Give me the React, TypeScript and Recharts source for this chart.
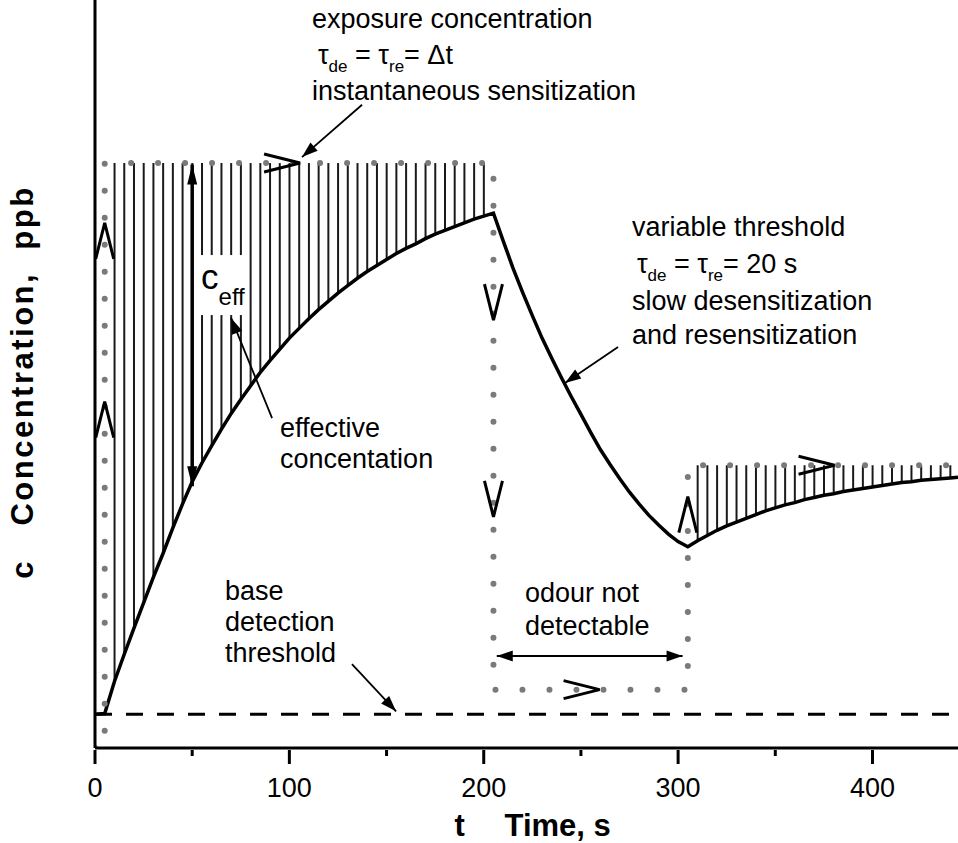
import {
  ComposedChart,
  Bar,
  Line,
  XAxis,
  YAxis,
  Label,
  ReferenceLine,
  ReferenceDot,
} from "recharts";

const FONT = '"Liberation Sans", Arial, Helvetica, sans-serif';

// effective (variable) threshold, every 5 s
const timeS = [
  0, 5, 10, 15, 20, 25, 30, 35, 40, 45,
  50, 55, 60, 65, 70, 75, 80, 85, 90, 95,
  100, 105, 110, 115, 120, 125, 130, 135, 140, 145,
  150, 155, 160, 165, 170, 175, 180, 185, 190, 195,
  200, 205, 210, 215, 220, 225, 230, 235, 240, 245,
  250, 255, 260, 265, 270, 275, 280, 285, 290, 295,
  300, 305, 310, 315, 320, 325, 330, 335, 340, 345,
  350, 355, 360, 365, 370, 375, 380, 385, 390, 395,
  400, 405, 410, 415, 420, 425, 430, 435, 440, 444,
];
const thresholdPpb = [
  4.5, 4.6, 8.9, 12.5, 16.0, 19.4, 22.8, 26.0, 29.4, 32.6,
  35.6, 38.1, 40.4, 42.6, 44.7, 46.6, 48.4, 50.2, 51.8, 53.3,
  54.8, 56.1, 57.4, 58.6, 59.7, 60.8, 61.8, 62.8, 63.7, 64.5,
  65.3, 66.1, 66.8, 67.4, 68.1, 68.7, 69.2, 69.7, 70.2, 70.7,
  71.1, 71.5, 67.8, 64.2, 60.9, 57.8, 54.8, 52.1, 49.5, 47.0,
  44.6, 42.2, 39.9, 37.9, 36.0, 34.2, 32.6, 31.1, 29.8, 28.6,
  27.6, 26.9, 27.7, 28.4, 29.1, 29.7, 30.2, 30.7, 31.2, 31.7,
  32.1, 32.5, 32.8, 33.2, 33.5, 33.8, 34.0, 34.3, 34.5, 34.7,
  34.9, 35.1, 35.3, 35.5, 35.6, 35.8, 35.9, 36.0, 36.1, 36.2,
];

// exposure step profile (corner points)
const exposureT = [0, 5, 5, 205, 205, 305, 305, 444];
const exposurePpb = [0, 0, 78.2, 78.2, 7.8, 7.8, 37.8, 37.8];

const baseThresholdPpb = 4.5;
const xTicks = [0, 50, 100, 150, 200, 250, 300, 350, 400];

// direction chevrons on the dotted exposure trace (apex position)
const chevrons = [
  { t: 5, c: 70.2, dir: "up" },
  { t: 5, c: 46.3, dir: "up" },
  { t: 105.5, c: 78.2, dir: "right" },
  { t: 205, c: 57.2, dir: "down" },
  { t: 205, c: 30.9, dir: "down" },
  { t: 259.6, c: 7.8, dir: "right" },
  { t: 305, c: 33.6, dir: "up" },
  { t: 380.5, c: 37.8, dir: "right" },
];

// annotation text, left aligned at the baseline
const notes = [
  { t: 111.6, c: 96.3, text: "exposure concentration" },
  { t: 111.6, c: 86.6, text: "instantaneous sensitization" },
  { t: 95.2, c: 41.6, text: "effective" },
  { t: 95.2, c: 37.4, text: "concentation" },
  { t: 276.3, c: 68.4, text: "variable threshold" },
  { t: 276.3, c: 58.6, text: "slow desensitization" },
  { t: 276.3, c: 54.0, text: "and resensitization" },
  { t: 221.2, c: 19.5, text: "odour not" },
  { t: 221.2, c: 15.1, text: "detectable" },
  { t: 66.9, c: 19.8, text: "base" },
  { t: 66.9, c: 15.6, text: "detection" },
  { t: 66.9, c: 11.5, text: "threshold" },
];
const tauNotes = [
  { t: 114.7, c: 91.4, tail: "Δt" },
  { t: 278.8, c: 63.5, tail: "20 s" },
];

// pointer arrows (tail -> head)
const pointers = [
  { x1: 137.4, y1: 86.0, x2: 106.5, y2: 79.0 },
  { x1: 91.1, y1: 44.1, x2: 70.0, y2: 57.5 },
  { x1: 269.1, y1: 53.6, x2: 241.8, y2: 48.8 },
  { x1: 132.2, y1: 11.2, x2: 154.9, y2: 4.9 },
];
// double-headed spans: c_eff and the "not detectable" interval
const spans = [
  { x1: 50, y1: 78.0, x2: 50, y2: 35.0, heavy: true },
  { x1: 206.7, y1: 12.3, x2: 302.3, y2: 12.3, heavy: false },
];

const curveData = timeS.map((t, i) => ({ t, c: thresholdPpb[i] }));
const exposureData = exposureT.map((t, i) => ({ t, c: exposurePpb[i] }));
const levelAt = (t: number) => {
  let lv = 0;
  exposureT.forEach((et, i) => {
    if (et <= t) lv = exposurePpb[i];
  });
  return lv;
};
const hatchData = curveData
  .filter((d) => !exposureT.includes(d.t) && levelAt(d.t) > d.c)
  .map((d) => ({ t: d.t, range: [d.c, levelAt(d.t)] }));

const renderTick = (p: any) => {
  const v = p.payload.value;
  const major = v % 100 === 0;
  return (
    <g>
      <line x1={p.x} x2={p.x} y1={p.y} y2={p.y + (major ? 14 : 6)} stroke="#000" strokeWidth={3} />
      {major && (
        <text x={p.x} y={p.y + 47} textAnchor="middle" fontFamily={FONT} fontSize={27} fill="#000">
          {v}
        </text>
      )}
    </g>
  );
};

const renderXTitle = (p: any) => {
  const vb = p.viewBox || { x: 95, y: 748, width: 863, height: 95 };
  const cx = vb.x + vb.width / 2;
  const y = vb.y + 88;
  return (
    <text y={y} fontFamily={FONT} fontWeight="bold" fontSize={31} fill="#000">
      <tspan x={cx - 72}>t</tspan>
      <tspan x={cx - 22}>Time, s</tspan>
    </text>
  );
};

const renderYTitle = (p: any) => {
  const vb = p.viewBox || { x: 0, y: 0, width: 95, height: 748 };
  const x = vb.x + 33;
  const y = vb.y + vb.height / 2 + 8;
  return (
    <text
      x={x}
      y={y}
      transform={`rotate(-90 ${x} ${y})`}
      textAnchor="middle"
      fontFamily={FONT}
      fontWeight="bold"
      fontSize={31}
      letterSpacing={2.5}
      fill="#000"
      xmlSpace="preserve"
      style={{ whiteSpace: "pre" }}
    >
      {"c   Concentration,  ppb"}
    </text>
  );
};

const chevronShape = (dir: string) => (p: any) => {
  const { cx, cy } = p;
  const L = 36;
  const W = 9;
  let pts: number[][];
  if (dir === "up") pts = [[cx - W, cy + L], [cx, cy], [cx + W, cy + L]];
  else if (dir === "down") pts = [[cx - W, cy - L], [cx, cy], [cx + W, cy - L]];
  else pts = [[cx - L, cy - W], [cx, cy], [cx - L, cy + W]];
  return (
    <polyline
      points={pts.map((q) => q.join(",")).join(" ")}
      fill="none"
      stroke="#000"
      strokeWidth={3}
      strokeLinejoin="miter"
    />
  );
};

const head = (x: number, y: number, ang: number, len: number, w: number) => {
  const bx = x - len * Math.cos(ang);
  const by = y - len * Math.sin(ang);
  const px = -Math.sin(ang) * w;
  const py = Math.cos(ang) * w;
  return `${x},${y} ${bx + px},${by + py} ${bx - px},${by - py}`;
};

const arrowShape = (both: boolean, heavy: boolean) => (p: any) => {
  const { x1, y1, x2, y2 } = p;
  const ang = Math.atan2(y2 - y1, x2 - x1);
  const len = heavy ? 20 : 16;
  const w = heavy ? 5 : 5.5;
  return (
    <g>
      <line x1={x1} y1={y1} x2={x2} y2={y2} stroke="#000" strokeWidth={heavy ? 3.5 : 1.8} />
      <polygon points={head(x2, y2, ang, len, w)} fill="#000" />
      {both && <polygon points={head(x1, y1, ang + Math.PI, len, w)} fill="#000" />}
    </g>
  );
};

const noteShape = (text: string) => (p: any) => (
  <text x={p.cx} y={p.cy} fontFamily={FONT} fontSize={27} fill="#000">
    {text}
  </text>
);

const tauShape = (tail: string) => (p: any) => (
  <text x={p.cx} y={p.cy} fontFamily={FONT} fontSize={27} fill="#000" xmlSpace="preserve">
    τ<tspan fontSize={17} dy={8}>de</tspan>
    <tspan dy={-8}>{" = τ"}</tspan>
    <tspan fontSize={17} dy={8}>re</tspan>
    <tspan dy={-8}>{"= " + tail}</tspan>
  </text>
);

const ceffShape = (p: any) => (
  <g>
    <rect x={p.cx} y={p.cy} width={52} height={60} fill="#fff" />
    <text x={p.cx + 4} y={p.cy + 34} fontFamily={FONT} fontSize={35} fill="#000">
      c
      <tspan fontSize={24} dy={16}>
        eff
      </tspan>
    </text>
  </g>
);

export default function App() {
  return (
    <div style={{ position: "absolute", left: 0, top: 0, width: 958, height: 843, background: "#fff" }}>
      <ComposedChart width={958} height={843} data={hatchData} margin={{ top: 0, right: 0, bottom: 0, left: 0 }}>
        <XAxis
          type="number"
          dataKey="t"
          domain={[0, 444]}
          allowDataOverflow
          ticks={xTicks}
          interval={0}
          tickSize={0}
          tickLine={false}
          tick={renderTick}
          height={95}
          axisLine={{ stroke: "#000", strokeWidth: 3 }}
        >
          <Label content={renderXTitle} />
        </XAxis>
        <YAxis
          type="number"
          domain={[0, 100]}
          allowDataOverflow
          width={95}
          tick={false}
          tickLine={false}
          axisLine={{ stroke: "#000", strokeWidth: 3 }}
        >
          <Label content={renderYTitle} />
        </YAxis>
        <Bar dataKey="range" barSize={2} fill="#1a1a1a" isAnimationActive={false} />
        <ReferenceLine y={baseThresholdPpb} stroke="#000" strokeWidth={3} strokeDasharray="17 14" />
        <Line
          data={curveData}
          dataKey="c"
          type="linear"
          stroke="#000"
          strokeWidth={3.5}
          dot={false}
          activeDot={false}
          isAnimationActive={false}
        />
        <Line
          data={exposureData}
          dataKey="c"
          type="linear"
          stroke="#7a7a7a"
          strokeWidth={6}
          strokeDasharray="0 27"
          strokeLinecap="round"
          dot={false}
          activeDot={false}
          isAnimationActive={false}
        />
        {chevrons.map((m, i) => (
          <ReferenceDot key={`ch${i}`} x={m.t} y={m.c} r={1} shape={chevronShape(m.dir)} />
        ))}
        <ReferenceDot x={52.5} y={65.9} r={1} shape={ceffShape} />
        {spans.map((s, i) => (
          <ReferenceLine
            key={`sp${i}`}
            segment={[{ x: s.x1, y: s.y1 }, { x: s.x2, y: s.y2 }]}
            shape={arrowShape(true, s.heavy)}
          />
        ))}
        {pointers.map((s, i) => (
          <ReferenceLine
            key={`pt${i}`}
            segment={[{ x: s.x1, y: s.y1 }, { x: s.x2, y: s.y2 }]}
            shape={arrowShape(false, false)}
          />
        ))}
        {notes.map((n, i) => (
          <ReferenceDot key={`n${i}`} x={n.t} y={n.c} r={1} shape={noteShape(n.text)} />
        ))}
        {tauNotes.map((n, i) => (
          <ReferenceDot key={`tau${i}`} x={n.t} y={n.c} r={1} shape={tauShape(n.tail)} />
        ))}
      </ComposedChart>
    </div>
  );
}
